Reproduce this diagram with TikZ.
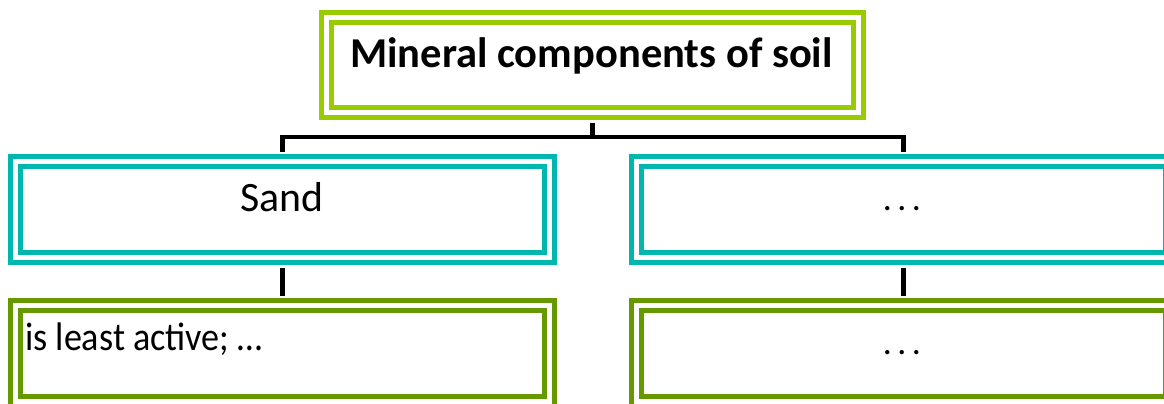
\documentclass[tikz,border=0pt]{standalone}
\usepackage{fontspec}
\setmainfont{Carlito}
\definecolor{lime}{RGB}{153,204,0}
\definecolor{teal2}{RGB}{0,183,176}
\definecolor{olive2}{RGB}{102,153,0}
\newcommand{\mydots}{.\hspace{5.5bp}.\hspace{5.5bp}.}
\tikzset{
  dbox/.style={draw=#1, line width=5bp, double=white, double distance=5bp,
    minimum width=534bp, minimum height=96bp, inner sep=0pt, outer sep=10bp},
  conn/.style={draw=black, line width=4.5bp},
  big/.style={font=\fontsize{42}{50}\selectfont, inner sep=0pt},
}
\begin{document}
\begin{tikzpicture}[x=1bp,y=-1bp]
\useasboundingbox (0,0) rectangle (1164,403);
\node[dbox=lime, minimum width=532bp, minimum height=95bp] (top) at (592.5,65) {};
\node[dbox=teal2] (sand) at (282.5,209.5) {};
\node[dbox=teal2] (r1) at (903.5,209.5) {};
\node[dbox=olive2] (g1) at (282.5,353.5) {};
\node[dbox=olive2] (g2) at (903.5,353.5) {};
\node[big, anchor=base, font=\fontsize{42.7}{50}\selectfont\bfseries] (ttl) at (591.5,67) {Mineral components of soil};
\node[big, anchor=base] (tsand) at (282,211) {Sand};
\node[big, anchor=base, font=\fontsize{36}{40}\selectfont] (td1) at (902,210) {\mydots};
\node[big, anchor=base west, font=\fontsize{40}{46}\selectfont] (tg1) at (25,350) {\scalebox{0.906}[1]{is least active; …}};
\node[big, anchor=base, font=\fontsize{36}{40}\selectfont] (td2) at (902,354) {\mydots};
\coordinate (bar) at (592.5,137);
\draw[conn] (top.south) -- (bar);
\draw[conn] (sand.north) |- (bar) -| (r1.north);
\draw[conn] (sand.south) -- (g1.north);
\draw[conn] (r1.south) -- (g2.north);
\end{tikzpicture}
\end{document}
